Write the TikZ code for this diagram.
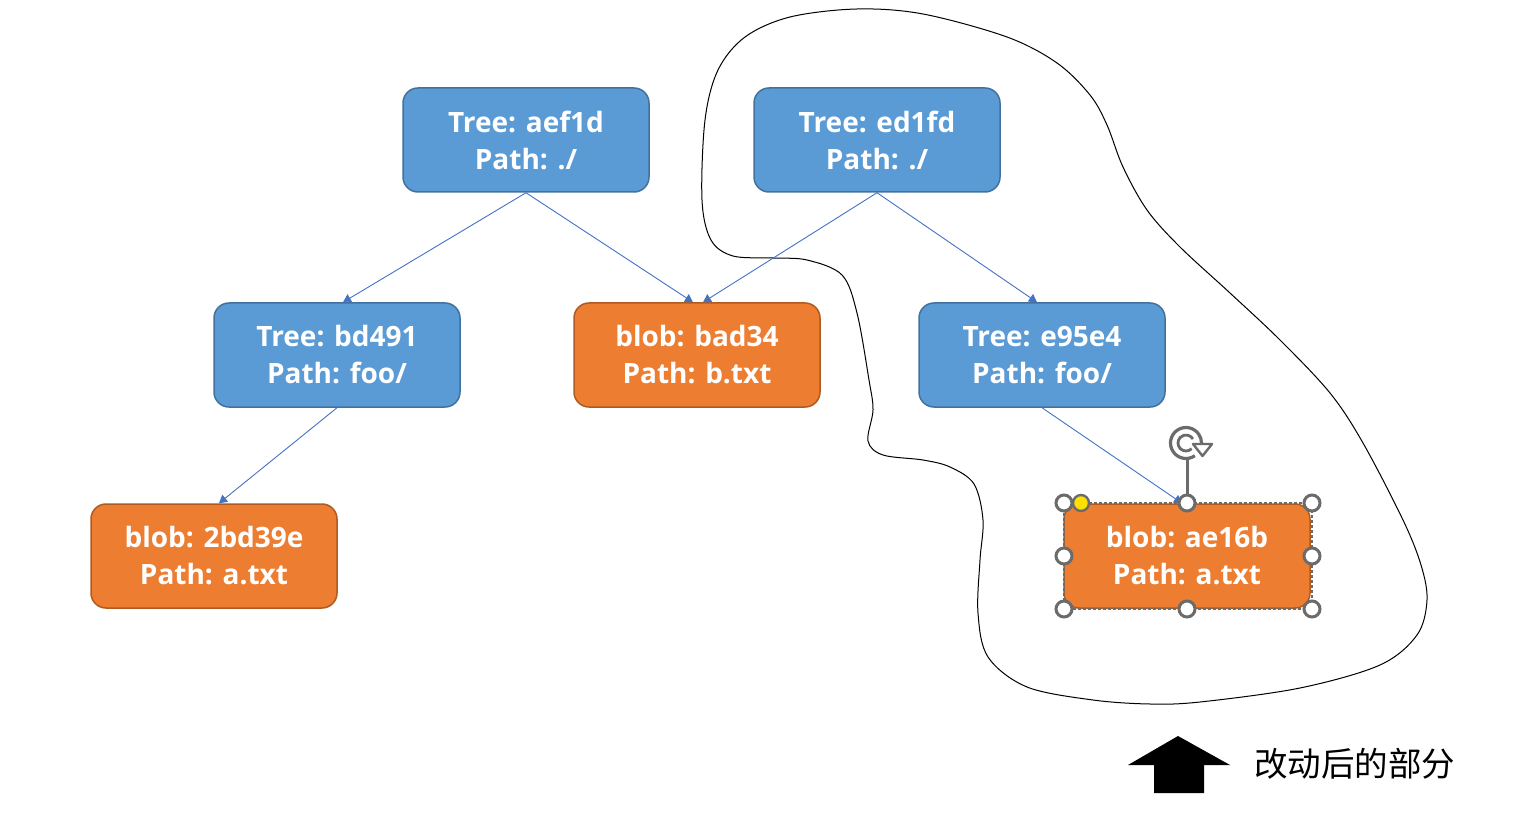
\documentclass[tikz,border=0pt]{standalone}
\usepackage{fontspec}
\usetikzlibrary{arrows.meta}
\newfontfamily\boxfont{Open Sans}
\newfontfamily\cjk{Noto Sans CJK SC}
\definecolor{bfill}{HTML}{5B9BD5}
\definecolor{bdraw}{HTML}{41719C}
\definecolor{ofill}{HTML}{ED7D31}
\definecolor{odraw}{HTML}{AE5A21}
\definecolor{conn}{HTML}{4472C4}
\definecolor{hgray}{HTML}{6B6B6B}
\definecolor{hyel}{HTML}{FFE000}
\tikzset{
  gbox/.style={rectangle, rounded corners=15pt, minimum width=246pt, minimum height=104pt,
    line width=1.5pt, text=white, align=center, inner sep=0pt,
    font=\boxfont\bfseries\fontsize{28pt}{37pt}\selectfont},
  treebox/.style={gbox, fill=bfill, draw=bdraw},
  blobbox/.style={gbox, fill=ofill, draw=odraw},
  link/.style={draw=conn, line width=0.9pt, -{Triangle[width=9pt,length=8pt]}},
  handle/.style={draw=hgray, line width=3pt, fill=white},
}
\begin{document}
\begin{tikzpicture}[x=1pt,y=-1pt]
\useasboundingbox (0,0) rectangle (1529,818);
% free-hand outline
\draw[black, line width=1pt] plot[smooth cycle, tension=0.55] coordinates {
(857,9) (923,14) (1007,37) (1057,63) (1090,95) (1107,125) (1123,167) (1147,210)
(1180,247) (1230,293) (1280,340) (1330,393) (1363,443) (1403,520) (1421,565)
(1427,600) (1417,635) (1380,665) (1300,688) (1200,702) (1150,704) (1093,700)
(1027,687) (988,657) (978,613) (980,560) (983,520) (974,484) (950,467) (923,460)
(883,455) (868,441) (873,410) (869,380) (857,313) (842,275) (807,260) (773,258)
(733,256) (711,240) (702,200) (705,120) (718,70) (745,37) (790,17)};
% boxes
\node[treebox] (aef1d) at (526,140) {Tree: aef1d\\Path: ./};
\node[treebox] (ed1fd) at (877,140) {Tree: ed1fd\\Path: ./};
\node[treebox] (bd491) at (337,355) {Tree: bd491\\Path: foo/};
\node[blobbox] (bad34) at (697,355) {blob: bad34\\Path: b.txt};
\node[treebox] (e95e4) at (1042,355) {Tree: e95e4\\Path: foo/};
\node[blobbox] (b2bd) at (214,556) {blob: 2bd39e\\Path: a.txt};
\node[blobbox] (ae16b) at (1187,556) {blob: ae16b\\Path: a.txt};
% connectors
\draw[link] (aef1d.south) -- ([xshift=6pt]bd491.north);
\draw[link] (aef1d.south) -- ([xshift=-4pt]bad34.north);
\draw[link] (ed1fd.south) -- ([xshift=6pt]bad34.north);
\draw[link] (ed1fd.south) -- ([xshift=-5pt]e95e4.north);
\draw[link] (bd491.south) -- ([xshift=5pt]b2bd.north);
\draw[link] (e95e4.south) -- ([xshift=-5pt]ae16b.north);
% selection frame
\coordinate (stl) at (1064,503);
\coordinate (sbr) at (1312,609);
\draw[hgray, line width=1.3pt, dash pattern=on 3pt off 2pt] (stl) rectangle (sbr);
\coordinate (rot) at (1186,443);
\draw[hgray, line width=3pt] (1187,495) -- (1187,459);
\draw[hgray, line width=3.2pt] (rot) ++(55:15.5) arc[start angle=55, end angle=360, radius=15.5];
\draw[hgray, line width=2.8pt] (rot) ++(45:8) arc[start angle=45, end angle=330, radius=8];
\draw[hgray, line width=2.4pt, fill=white, line join=round] (1193,444) -- (1212,444) -- (1202.5,456) -- cycle;
\foreach \p in {(1064,503),(1187,503),(1312,503),(1064,556),(1312,556),(1064,609),(1187,609),(1312,609)}
  \draw[handle] \p circle[radius=8];
\draw[hgray, line width=2.4pt, fill=hyel] (1081,503) circle[radius=8];
% legend
\fill[black] (1178,736) -- (1230,765) -- (1204,765) -- (1204,793) -- (1154,793) -- (1154,765) -- (1128,765) -- cycle;
\node[anchor=west, inner sep=0pt, font=\cjk\fontsize{33.5pt}{36pt}\selectfont] (legend) at (1254,764) {改动后的部分};
\end{tikzpicture}
\end{document}
